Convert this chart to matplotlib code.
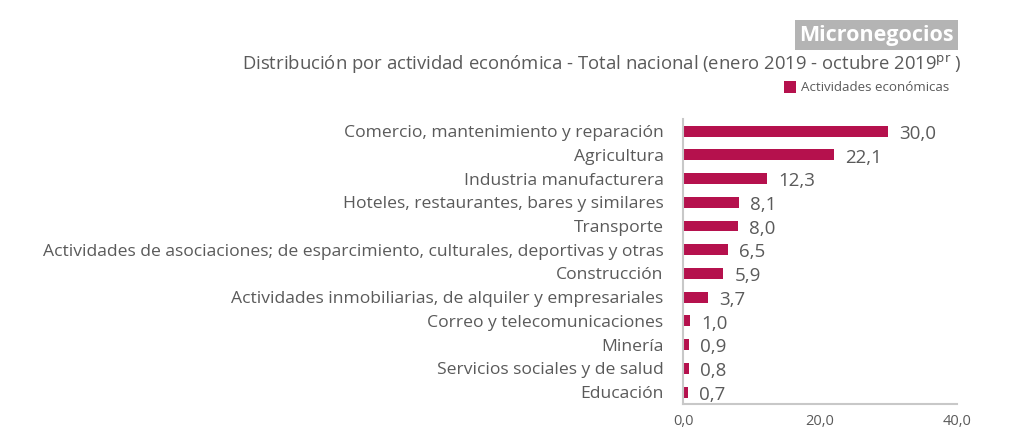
import matplotlib.pyplot as plt
import matplotlib.patches as patches
from matplotlib.ticker import FuncFormatter

# Datos: distribución de micronegocios por actividad económica (%)
actividades = [
    'Comercio, mantenimiento y reparación',
    'Agricultura',
    'Industria manufacturera',
    'Hoteles, restaurantes, bares y similares',
    'Transporte',
    'Actividades de asociaciones; de esparcimiento, culturales, deportivas y otras',
    'Construcción',
    'Actividades inmobiliarias, de alquiler y empresariales',
    'Correo y telecomunicaciones',
    'Minería',
    'Servicios sociales y de salud',
    'Educación',
]
porcentajes = [30.0, 22.1, 12.3, 8.1, 8.0, 6.5, 5.9, 3.7, 1.0, 0.9, 0.8, 0.7]
ticks_x = [0, 20, 40]

# Estilo
cor_barra = '#b5114d'
cor_texto = '#5a5a5a'
cor_eixo = '#c8c8c8'
plt.rcParams['font.family'] = ['Open Sans', 'DejaVu Sans']

fig = plt.figure(figsize=(10.29, 4.4), dpi=100)
ax = fig.add_axes([0.6638, 0.082, 0.2662, 0.647])

posicoes = list(range(len(actividades)))
ax.barh(posicoes, porcentajes, height=0.46, color=cor_barra)
ax.set_ylim(len(actividades) - 0.5, -0.5)
ax.set_xlim(0, 40)

ax.set_yticks(posicoes)
ax.set_yticklabels(actividades, fontsize=12.6, color=cor_texto)
ax.set_xticks(ticks_x)
ax.xaxis.set_major_formatter(FuncFormatter(lambda v, p: f'{v:.1f}'.replace('.', ',')))
ax.tick_params(axis='x', labelsize=10.5, colors=cor_texto, length=0, pad=7)
ax.tick_params(axis='y', length=0, pad=14)

for s in ['top', 'right']:
    ax.spines[s].set_visible(False)
for s in ['left', 'bottom']:
    ax.spines[s].set_color(cor_eixo)
    ax.spines[s].set_linewidth(1.5)

# Rótulos de valor ao lado de cada barra
for y, v in zip(posicoes, porcentajes):
    ax.annotate(f'{v:.1f}'.replace('.', ','), (v, y), xytext=(8, -2),
                textcoords='offset points', ha='left', va='center',
                fontsize=13.5, color=cor_texto)

# Título com caixa cinza
fig.text(0.927, 0.920, 'Micronegocios', ha='right', va='center',
         fontsize=15.5, fontweight='bold', color='white',
         bbox=dict(boxstyle='square,pad=0.2', facecolor='#b4b4b4', edgecolor='none'))
fig.text(0.9345, 0.853,
         r'Distribución por actividad económica - Total nacional (enero 2019 - octubre 2019$^{\mathrm{pr}}$ )',
         ha='right', va='center', fontsize=13.3, color=cor_texto)

# Legenda
fig.patches.append(patches.Rectangle((0.762, 0.789), 0.0117, 0.027, facecolor=cor_barra,
                                     transform=fig.transFigure, figure=fig))
fig.text(0.7785, 0.802, 'Actividades económicas', ha='left', va='center',
         fontsize=9.6, color=cor_texto)

fig.savefig('out.png', dpi=100, facecolor='white')
